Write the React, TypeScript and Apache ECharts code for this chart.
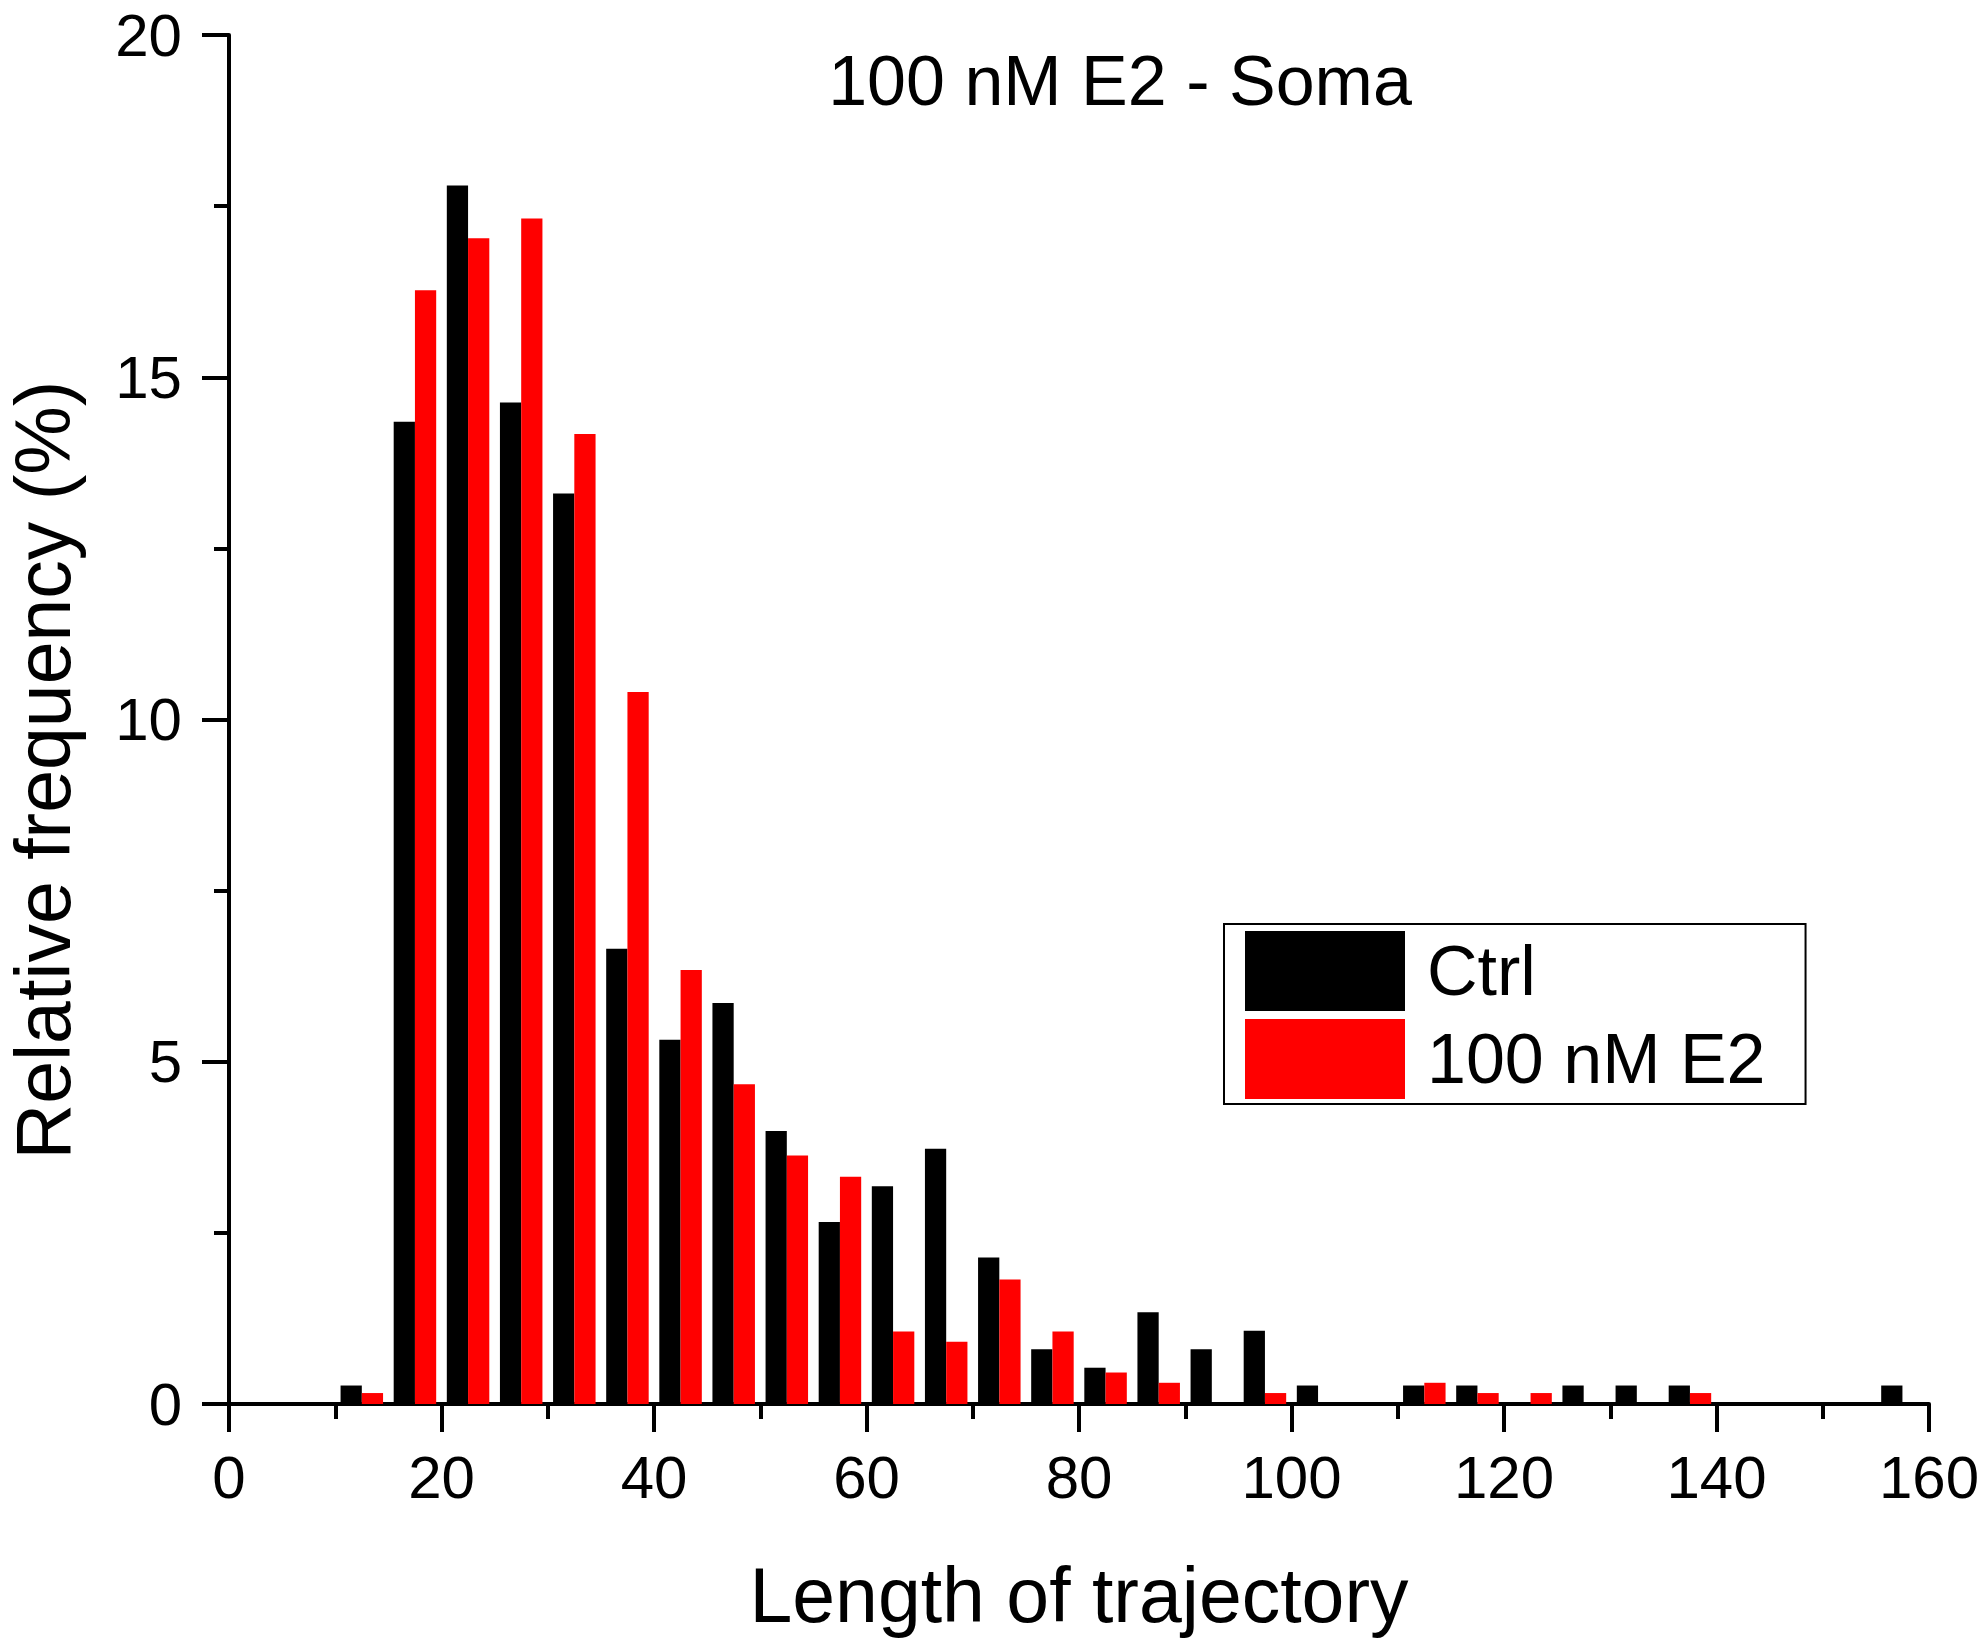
import React, { useEffect, useRef } from "react";
import * as echarts from "echarts";

// Histogram bins: 0-5, 5-10, ..., 155-160 (bin width 5)
const binStarts: number[] = Array.from({ length: 32 }, (_, i) => i * 5);
const binWidth = 5;

const ctrlValues: number[] = [
  0, 0, 0.27, 14.35, 17.8, 14.63, 13.3, 6.65, 5.32, 5.86, 3.99, 2.66, 3.18, 3.73,
  2.14, 0.8, 0.53, 1.34, 0.8, 1.07, 0.27, 0, 0.27, 0.27, 0, 0.27, 0.27, 0.27, 0,
  0, 0, 0.27,
];

const e2Values: number[] = [
  0, 0, 0.16, 16.27, 17.03, 17.32, 14.17, 10.4, 6.34, 4.67, 3.63, 3.32, 1.06,
  0.91, 1.82, 1.06, 0.46, 0.31, 0, 0.16, 0, 0, 0.31, 0.16, 0.16, 0, 0, 0.16, 0,
  0, 0, 0,
];

const seriesNames: string[] = ["Ctrl", "100 nM E2"];
const titleText = "100 nM E2 - Soma";
const xAxisName = "Length of trajectory";
const yAxisName = "Relative frequency (%)";

const FONT = "'Liberation Sans', Arial, Helvetica, sans-serif";

function toPairs(values: number[]): [number, number][] {
  const out: [number, number][] = [];
  values.forEach((v, i) => {
    if (v > 0) out.push([binStarts[i] + binWidth / 2, v]);
  });
  return out;
}

export default function App() {
  const ref = useRef<HTMLDivElement>(null);

  useEffect(() => {
    if (!ref.current) return;
    const chart = echarts.init(ref.current, undefined, { renderer: "svg" });
    const axisLine = { show: true, lineStyle: { color: "#000", width: 4 } };
    chart.setOption({
      animation: false,
      backgroundColor: "#ffffff",
      textStyle: { fontFamily: FONT },
      grid: {
        left: 229,
        top: 35,
        width: 1700,
        height: 1369,
        containLabel: false,
        outerBoundsMode: "none",
      },
      legend: {
        show: true,
        orient: "vertical",
        left: 1224,
        top: 924,
        icon: "rect",
        itemWidth: 160,
        itemHeight: 80,
        itemGap: 8,
        padding: [7, 40, 5, 21],
        borderColor: "#000",
        borderWidth: 2,
        backgroundColor: "#fff",
        textStyle: {
          fontSize: 70,
          color: "#000",
          fontFamily: FONT,
          padding: [0, 0, 0, 17],
        },
        data: seriesNames,
      },
      xAxis: {
        type: "value",
        min: 0,
        max: 160,
        interval: 20,
        axisLine,
        axisTick: { show: true, length: 28, lineStyle: { color: "#000", width: 4 } },
        minorTick: { show: true, splitNumber: 2, length: 15, lineStyle: { color: "#000", width: 4 } },
        splitLine: { show: false },
        axisLabel: { fontSize: 60, color: "#000", margin: 43, fontFamily: FONT },
        name: xAxisName,
        nameLocation: "middle",
        nameGap: 152,
        nameTextStyle: { fontSize: 77, color: "#000", fontFamily: FONT },
      },
      yAxis: {
        type: "value",
        min: 0,
        max: 20,
        interval: 5,
        axisLine,
        axisTick: { show: true, length: 27, lineStyle: { color: "#000", width: 4 } },
        minorTick: { show: true, splitNumber: 2, length: 15, lineStyle: { color: "#000", width: 4 } },
        splitLine: { show: false },
        axisLabel: { fontSize: 60, color: "#000", margin: 47, fontFamily: FONT },
      },
      graphic: [
        {
          type: "text",
          x: 1120,
          y: 81,
          style: {
            text: titleText,
            fontSize: 70,
            fontFamily: FONT,
            fill: "#000",
            textAlign: "center",
            textVerticalAlign: "middle",
          },
        },
        {
          type: "text",
          x: 43,
          y: 770,
          rotation: Math.PI / 2,
          style: {
            text: yAxisName,
            fontSize: 77,
            lineHeight: 77,
            fontFamily: FONT,
            fill: "#000",
            textAlign: "center",
            textVerticalAlign: "middle",
          },
        },
      ],
      series: [
        {
          name: seriesNames[0],
          type: "bar",
          data: toPairs(ctrlValues),
          barWidth: "40%",
          barGap: "0%",
          itemStyle: { color: "#000000" },
        },
        {
          name: seriesNames[1],
          type: "bar",
          data: toPairs(e2Values),
          barWidth: "40%",
          barGap: "0%",
          itemStyle: { color: "#ff0000" },
        },
      ],
    });
    return () => chart.dispose();
  }, []);

  return (
    <div
      ref={ref}
      style={{ position: "absolute", left: 0, top: 0, width: 1983, height: 1642 }}
    />
  );
}
